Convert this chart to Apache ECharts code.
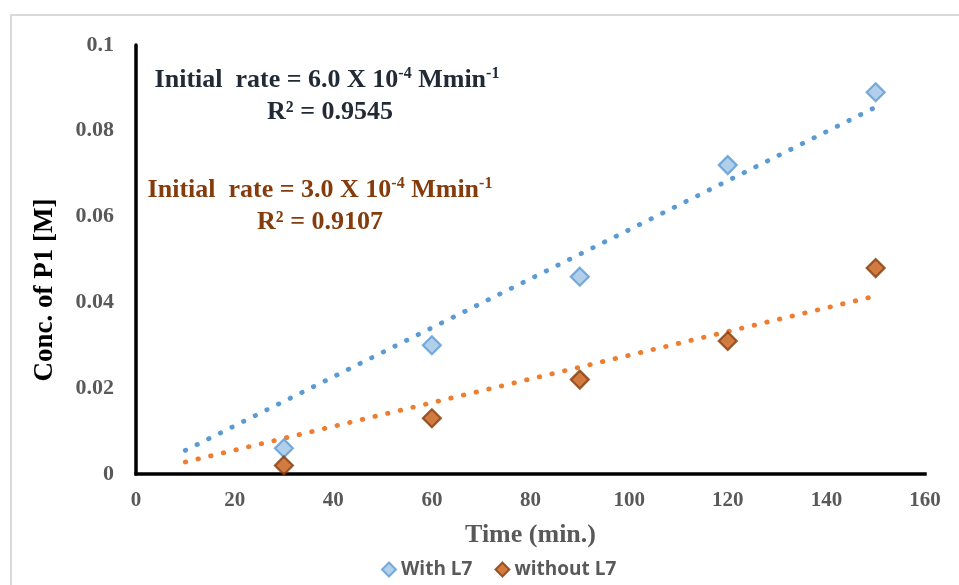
<!DOCTYPE html>
<html>
<head>
<meta charset="utf-8">
<script src="https://cdn.jsdelivr.net/npm/echarts@6/dist/echarts.min.js"></script>
<style>
  html, body { margin: 0; padding: 0; background: #ffffff; }
  #frame { position: absolute; left: 10px; top: 14px; width: 970px; height: 600px;
           border: 2px solid #d9d9d9; box-sizing: border-box; }
  #chart { position: absolute; left: 0; top: 0; width: 959px; height: 585px; }
</style>
</head>
<body>
<div id="frame"></div>
<div id="chart"></div>
<script>
// Reaction time (min.)
const timeMin = [30, 60, 90, 120, 150];
// Concentration of P1 [M]
const withL7 = [0.006, 0.030, 0.046, 0.072, 0.089];
const withoutL7 = [0.002, 0.013, 0.022, 0.031, 0.048];
// Linear trendline endpoints
const trendX = [10, 150];
const trendWith = [0.0055, 0.0855];
const trendWithout = [0.0028, 0.0415];

const serif = '"Liberation Serif", "Times New Roman", serif';
const pairs = (xs, ys) => xs.map((x, i) => [x, ys[i]]);

const chart = echarts.init(document.getElementById('chart'), null, { renderer: 'canvas' });

const tickLabel = { color: '#595959', fontFamily: serif, fontWeight: 'bold' };

function rateText(color) {
  return {
    base: { fontFamily: serif, fontWeight: 'bold', fontSize: 26, fill: color },
    sup: { fontFamily: serif, fontWeight: 'bold', fontSize: 16, fill: color, padding: [0, 0, 12, 0] }
  };
}

function eqLine(x, y, text, color) {
  return {
    type: 'text', x: x, y: y, z: 10,
    style: { text: text, rich: rateText(color), align: 'center', verticalAlign: 'middle' }
  };
}

chart.setOption({
  animation: false,
  grid: { left: 136, right: 34, top: 45, bottom: 111 },
  xAxis: {
    type: 'value', min: 0, max: 160, interval: 20,
    name: 'Time (min.)', nameLocation: 'middle', nameGap: 48,
    nameTextStyle: { color: '#595959', fontFamily: serif, fontWeight: 'bold', fontSize: 26 },
    axisLine: { show: true, onZero: false, lineStyle: { color: '#000', width: 3.5, cap: 'square' } },
    axisTick: { show: false },
    splitLine: { show: false },
    axisLabel: Object.assign({ margin: 16, fontSize: 21 }, tickLabel)
  },
  yAxis: {
    type: 'value', min: 0, max: 0.1, interval: 0.02,
    axisLine: { show: true, lineStyle: { color: '#000', width: 3.5, cap: 'round' } },
    axisTick: { show: false },
    splitLine: { show: false },
    axisLabel: Object.assign({ margin: 22, fontSize: 22, formatter: v => String(+v.toFixed(2)) }, tickLabel)
  },
  legend: {
    bottom: 1, left: 376, itemGap: 22, itemWidth: 14, itemHeight: 14,
    data: ['With L7', 'without L7'],
    textStyle: { color: '#595959', fontFamily: '"Liberation Sans Narrow", "Open Sans", sans-serif', fontWeight: 'bold', fontSize: 19 }
  },
  series: [
    {
      name: 'With L7 trend', type: 'line', data: pairs(trendX, trendWith),
      showSymbol: false, silent: true, z: 1,
      lineStyle: { color: '#5b9bd5', width: 4.8, type: [0.5, 12.5], cap: 'round' }
    },
    {
      name: 'without L7 trend', type: 'line', data: pairs(trendX, trendWithout),
      showSymbol: false, silent: true, z: 1,
      lineStyle: { color: '#ed7d31', width: 4.8, type: [0.5, 12.5], cap: 'round' }
    },
    {
      name: 'With L7', type: 'scatter', data: pairs(timeMin, withL7),
      symbol: 'diamond', symbolSize: 18, z: 3,
      itemStyle: { color: '#9dc3e6', borderColor: '#5b9bd5', borderWidth: 2.2 }
    },
    {
      name: 'without L7', type: 'scatter', data: pairs(timeMin, withoutL7),
      symbol: 'diamond', symbolSize: 18, z: 3,
      itemStyle: { color: '#c55a11', borderColor: '#843c0c', borderWidth: 2.2 }
    }
  ],
  graphic: [
    {
      type: 'text', x: 45, y: 290, rotation: Math.PI / 2, z: 10,
      style: { text: 'Conc. of P1 [M]', fontFamily: serif, fontWeight: 'bold', fontSize: 27,
               fill: '#000', align: 'center', verticalAlign: 'middle' }
    },
    eqLine(327, 80, '{base|Initial  rate = 6.0 X 10}{sup|-4}{base| Mmin}{sup|-1}', '#222a35'),
    eqLine(330, 112, '{base|R² = 0.9545}', '#222a35'),
    eqLine(320, 190, '{base|Initial  rate = 3.0 X 10}{sup|-4}{base| Mmin}{sup|-1}', '#843c0c'),
    eqLine(320, 222, '{base|R² = 0.9107}', '#843c0c')
  ]
});
</script>
</body>
</html>
